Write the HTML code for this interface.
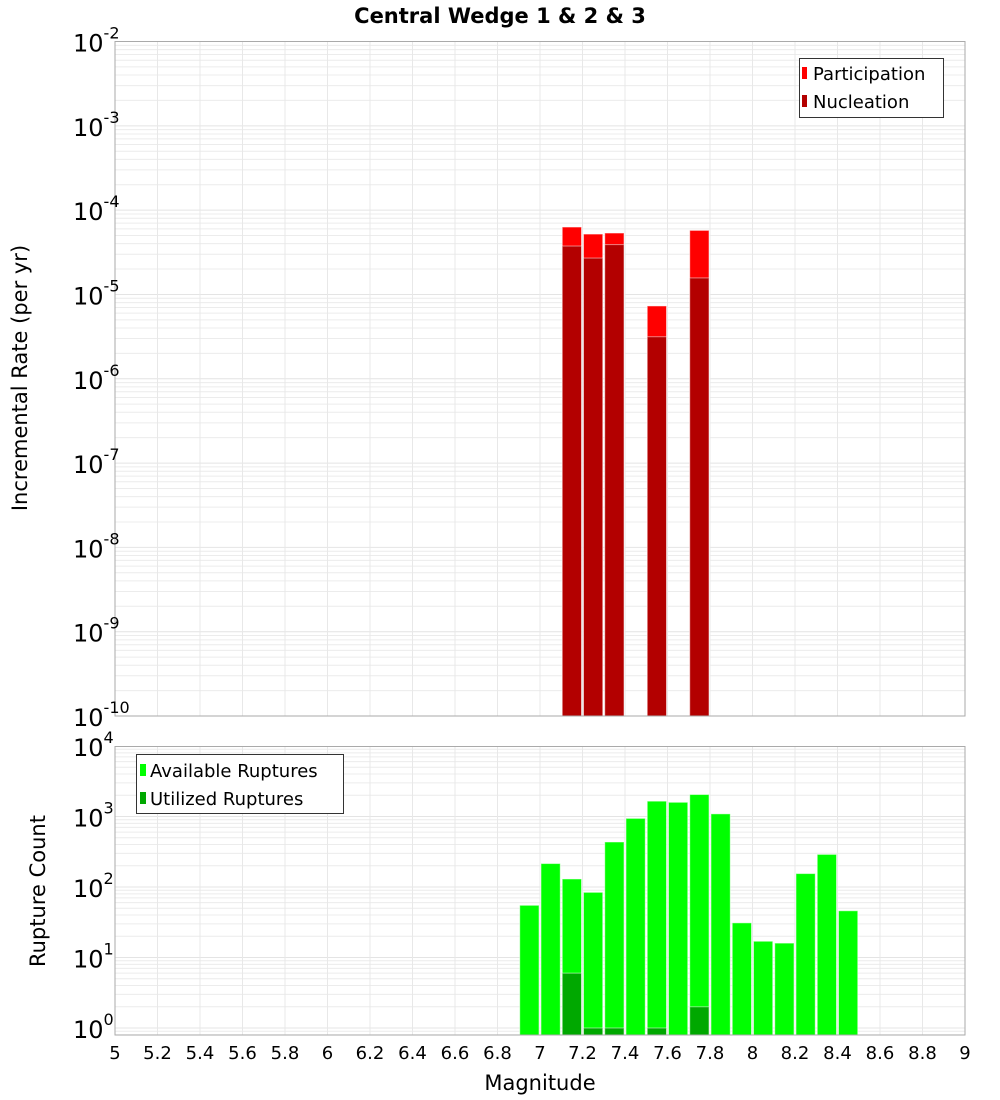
<!DOCTYPE html>
<html><head><meta charset="utf-8"><style>
body{margin:0;background:#fff;}
svg{display:block;font-family:"DejaVu Sans","Liberation Sans",sans-serif;}
</style></head><body>
<svg id="chart" width="1000" height="1100">
<text x="500" y="23" text-anchor="middle" font-weight="bold" font-size="21">Central Wedge 1 &amp; 2 &amp; 3</text>
<g id="top"></g><g id="bot"></g><g id="xaxis"></g>
<text transform="translate(27,378) rotate(-90)" text-anchor="middle" font-size="21">Incremental Rate (per yr)</text>
<text transform="translate(45,891) rotate(-90)" text-anchor="middle" font-size="21">Rupture Count</text>
<text x="540" y="1090" text-anchor="middle" font-size="21">Magnitude</text>
<g>
<rect x="799.5" y="58.5" width="144" height="59" fill="#fff" stroke="#333"/>
<rect x="802" y="67" width="5" height="12" fill="#ff0000"/>
<text x="813" y="80" font-size="18">Participation</text>
<rect x="802" y="95" width="5" height="12" fill="#b30000"/>
<text x="813" y="108" font-size="18">Nucleation</text>
</g>
<g>
<rect x="136.5" y="754.5" width="207" height="59" fill="#fff" stroke="#333"/>
<rect x="140" y="764" width="6" height="12" fill="#00ff00"/>
<text x="150" y="777" font-size="18">Available Ruptures</text>
<rect x="140" y="792" width="6" height="12" fill="#00a800"/>
<text x="150" y="805" font-size="18">Utilized Ruptures</text>
</g>
</svg>
<script>
const topMags=[7.15,7.25,7.35,7.55,7.75];
const participation=[6.3e-5,5.2e-5,5.35e-5,7.3e-6,5.75e-5];
const nucleation=[3.75e-5,2.7e-5,3.9e-5,3.15e-6,1.57e-5];
const botMags=[6.95,7.05,7.15,7.25,7.35,7.45,7.55,7.65,7.75,7.85,7.95,8.05,8.15,8.25,8.35,8.45];
const available=[55,215,130,84,435,940,1650,1590,2050,1090,31,17,16,155,290,46];
const utilMags=[7.15,7.25,7.35,7.55,7.75];
const utilized=[6,1,1,1,2];
const xTicks=[5,5.2,5.4,5.6,5.8,6,6.2,6.4,6.6,6.8,7,7.2,7.4,7.6,7.8,8,8.2,8.4,8.6,8.8,9];
const topExps=[-2,-3,-4,-5,-6,-7,-8,-9,-10];
const botExps=[4,3,2,1,0];

const NS='http://www.w3.org/2000/svg';
const X0=115,X1=965;
const xs=m=>X0+(m-5)/4*(X1-X0);
const T0=41.5,T1=716;
const ty=v=>T0+(-2-Math.log10(v))*(T1-T0)/8;
const B0=746.5,B1=1035,DEC=70.5;
const by=v=>1028-Math.log10(v)*DEC;
function mk(p,tag,a,name){const e=document.createElementNS(NS,tag);for(const k in a)e.setAttribute(k,a[k]);


p.appendChild(e);return e;}
function panel(g,y0,y1,yf,lo,hi){
  mk(g,'rect',{x:X0,y:y0,width:X1-X0,height:y1-y0,fill:'#fff'},'plot-area');
  for(let e=lo;e<hi;e++)for(let k=1;k<10;k++){const y=yf(k*Math.pow(10,e));if(y>y0&&y<y1)
    mk(g,'line',{x1:X0,x2:X1,y1:y,y2:y,stroke:k==1?'#e4e4e4':'#ececec','stroke-width':1},'h-gridline');}
  xTicks.forEach(t=>{const x=xs(t);mk(g,'line',{x1:x,x2:x,y1:y0,y2:y1,stroke:'#e8e8e8'},'v-gridline');});
}
function frame(g,y0,y1){mk(g,'rect',{x:X0,y:y0,width:X1-X0,height:y1-y0,fill:'none',stroke:'#aaa'},'plot-frame');}
function bar(g,m,yTop,yBot,fill,name){const w=(X1-X0)/40;
  mk(g,'rect',{x:xs(m)-w/2+1,y:yTop,width:w-2,height:yBot-yTop,fill:fill,stroke:'rgba(255,255,255,0.5)','stroke-width':1},name);}
const gt=document.getElementById('top'),gb=document.getElementById('bot'),gx=document.getElementById('xaxis');
panel(gt,T0,T1,ty,-10,-2);
topMags.forEach((m,i)=>bar(gt,m,ty(participation[i]),T1,'#ff0000','bar-participation'));
topMags.forEach((m,i)=>bar(gt,m,ty(nucleation[i]),T1,'#b30000','bar-nucleation'));
frame(gt,T0,T1);
panel(gb,B0,B1,by,-1,4);
botMags.forEach((m,i)=>bar(gb,m,by(available[i]),B1,'#00ff00','bar-available'));
utilMags.forEach((m,i)=>bar(gb,m,by(utilized[i]),B1,'#00a800','bar-utilized'));
frame(gb,B0,B1);
function ylab(g,y,e,name){const t=mk(g,'text',{x:73,y:y+10,'font-size':24},name);
  t.textContent='10';const s=document.createElementNS(NS,'tspan');s.setAttribute('dy','-13');s.setAttribute('font-size','16');s.textContent=String(e);t.appendChild(s);}
topExps.forEach(e=>ylab(gt,ty(Math.pow(10,e)),e,'top-y-tick-label'));
botExps.forEach(e=>ylab(gb,by(Math.pow(10,e)),e,'bottom-y-tick-label'));
xTicks.forEach(t=>{const el=mk(gx,'text',{x:xs(t),y:1059,'text-anchor':'middle','font-size':18},'x-tick-label');el.textContent=String(t);});
</script>
</body></html>
